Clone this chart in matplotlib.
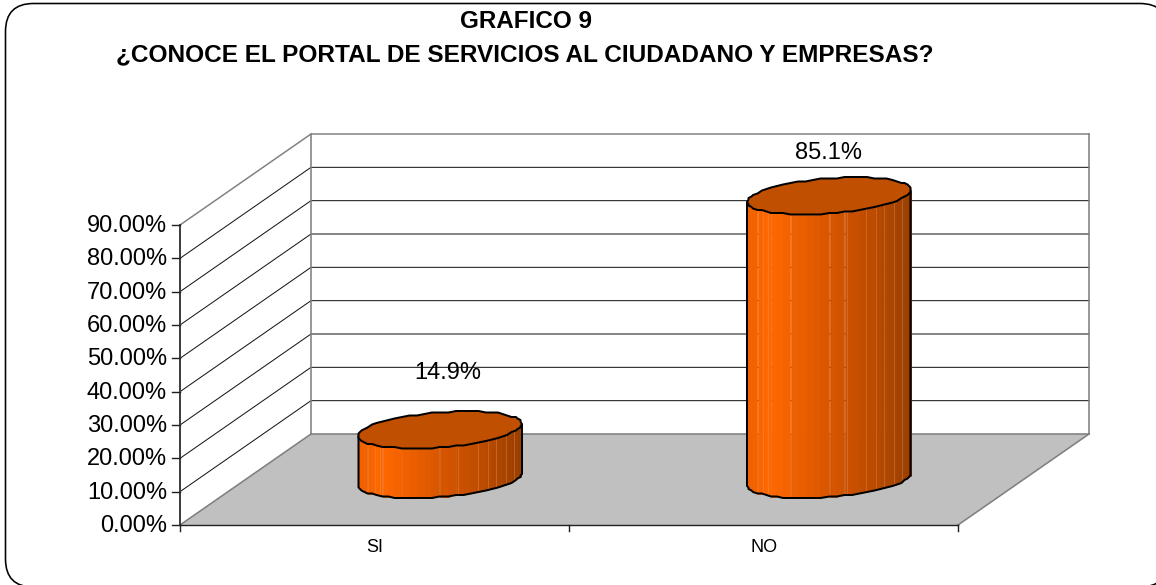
import numpy as np
import matplotlib
matplotlib.use("Agg")
import matplotlib.pyplot as plt
from matplotlib.patches import FancyBboxPatch, Polygon
from matplotlib.colors import LinearSegmentedColormap

# ---- data ----
categories = ["SI", "NO"]
values = [14.9, 85.1]
value_labels = ["14.9%", "85.1%"]
y_ticks = [0, 10, 20, 30, 40, 50, 60, 70, 80, 90]
y_tick_labels = ["0.00%", "10.00%", "20.00%", "30.00%", "40.00%",
                 "50.00%", "60.00%", "70.00%", "80.00%", "90.00%"]
title_lines = ["GRAFICO 9", "¿CONOCE EL PORTAL DE SERVICIOS AL CIUDADANO Y EMPRESAS?"]

# ---- projection (oblique view of the 3-D chart, in figure pixels) ----
X0, Y0 = 180.0, 525.0      # front-left floor corner
W = 778.0                  # floor width
DX, DY = 131.0, 91.0       # depth offset
PX_PER_UNIT = 300.0 / 90.0
YMAX = 90.0


def proj(c, v, d):
    """c: category axis 0..n, v: value, d: depth 0..1"""
    n = len(categories)
    return X0 + W * c / n + DX * d, Y0 - v * PX_PER_UNIT - DY * d


plt.rcParams["font.family"] = ["Liberation Sans", "DejaVu Sans"]
fig = plt.figure(figsize=(11.56, 5.85), dpi=100, facecolor="white")
ax = fig.add_axes([0, 0, 1, 1])
ax.set_xlim(0, 1156)
ax.set_ylim(585, 0)
ax.axis("off")

PX = 0.72
GRAY = "#808080"

# chart frame (its right and bottom edges run off the canvas)
R = 28
FL, FT, FR, FB = 5.5, 3.5, 1168.0, 587.0
ax.add_patch(FancyBboxPatch((FL + R, FT + R), FR - FL - 2 * R, FB - FT - 2 * R,
                            boxstyle=f"round,pad={R},rounding_size={R}",
                            fc="white", ec="black", lw=1.6 * PX, zorder=1))

# floor
nc = len(categories)
floor = [proj(0, 0, 0), proj(nc, 0, 0), proj(nc, 0, 1), proj(0, 0, 1)]
ax.add_patch(Polygon(floor, closed=True, fc="#C0C0C0", ec="none", zorder=2))
for a, b in [(floor[3], floor[2]), (floor[0], floor[3]), (floor[1], floor[2])]:
    ax.plot([a[0], b[0]], [a[1], b[1]], color=GRAY, lw=1.6 * PX, zorder=3)

# gridlines on back and side wall
for t in y_ticks[1:]:
    top = t == y_ticks[-1]
    col = GRAY if top else "#111111"
    lw = (1.5 if top else 1.0) * PX
    xa, ya = proj(0, t, 0)
    xb, yb = proj(0, t, 1)
    xc, yc = proj(nc, t, 1)
    ax.plot([xa, xb, xc], [ya, yb, yc], color=col, lw=lw, zorder=3)

# wall verticals
for c in (0, nc):
    xa, ya = proj(c, 0, 1)
    xb, yb = proj(c, YMAX, 1)
    ax.plot([xa, xb], [ya, yb], color=GRAY, lw=1.6 * PX, zorder=3)

# axes
xa, ya = proj(0, 0, 0)
xb, yb = proj(0, YMAX, 0)
ax.plot([xa, xb], [ya, yb], color="#404040", lw=2 * PX, zorder=4)
xc, yc = proj(nc, 0, 0)
ax.plot([xa, xc], [ya, yc], color="#202020", lw=1.4 * PX, zorder=4)
for t, lab in zip(y_ticks, y_tick_labels):
    x, y = proj(0, t, 0)
    ax.plot([x - 8, x], [y, y], color="#202020", lw=1.4 * PX, zorder=4)
    ax.text(x - 13, y + 1, lab, ha="right", va="center", fontsize=17, color="black")
for c in range(nc + 1):
    x, y = proj(c, 0, 0)
    ax.plot([x, x], [y, y + 6], color="#202020", lw=1.4 * PX, zorder=4)
for i, lab in enumerate(categories):
    x, y = proj(i + 0.5, 0, 0)
    ax.text(x + 0.5, y + 22, lab, ha="center", va="center", fontsize=13, color="black")

# cylinders
A, BX, BY = 77.0, 26.6, 18.5
SNAP = 1.5
N_SEG = 32
side_cmap = LinearSegmentedColormap.from_list(
    "side", [(0, "#EE5F00"), (0.14, "#FF6800"), (0.5, "#D85600"),
             (0.8, "#B84A00"), (1, "#983E00")])
TOP_COL = "#C05000"
LIGHT = [0.10, 0.13, 0.61, 0.73, 0.79, 0.84, 0.90, 0.95]
t_r = np.arctan2(BX, A)
t_l = t_r + np.pi


def ring(cx, cy, ts):
    x = cx + A * np.cos(ts) + BX * np.sin(ts)
    y = cy - BY * np.sin(ts)
    return np.round(x / SNAP) * SNAP, np.round(y / SNAP) * SNAP


for i, v in enumerate(values):
    cx, cy0 = proj(i + 0.5, 0, 0.5)
    _, cyt = proj(i + 0.5, v, 0.5)
    tf = np.linspace(t_l, t_r + 2 * np.pi, N_SEG + 1)
    xt, yt = ring(cx, cyt, tf)
    xb, yb = ring(cx, cy0, tf)
    xmin, xmax = xt.min(), xt.max()
    for k in range(len(tf) - 1):
        f = 0.5 * (xt[k] + xt[k + 1] - 2 * xmin) / (xmax - xmin)
        poly = [(xt[k], yt[k]), (xt[k + 1], yt[k + 1]), (xb[k + 1], yb[k + 1]), (xb[k], yb[k])]
        col = side_cmap(f)
        ax.add_patch(Polygon(poly, closed=True, fc=col, ec=col, lw=0.5, zorder=5))
    for f in LIGHT:
        xl = xmin + f * (xmax - xmin)
        yl_t = np.interp(xl, xt, yt)
        yl_b = np.interp(xl, xt, yb)
        ax.plot([xl, xl], [yl_t, yl_b], color="#F0A070", lw=0.7 * PX, zorder=5.5, alpha=0.45)
    # silhouette
    ax.plot(np.r_[xt[0], xb, xt[-1]], np.r_[yt[0], yb, yt[-1]],
            color="black", lw=2.0 * PX, zorder=6, solid_joinstyle="round")
    ta = np.linspace(0, 2 * np.pi, 2 * N_SEG + 1)
    xe, ye = ring(cx, cyt, ta + t_r)
    ax.add_patch(Polygon(np.c_[xe, ye], closed=True, fc=TOP_COL, ec="black",
                         lw=2.0 * PX, zorder=7, joinstyle="round"))

# value labels
label_offsets = [(8, -56.5), (-1, -42.5)]
for i, (v, lab) in enumerate(zip(values, value_labels)):
    x, y = proj(i + 0.5, v, 0.5)
    dx, dy = label_offsets[i]
    ax.text(x + dx, y + dy, lab, ha="center", va="center", fontsize=17, color="black", zorder=8)

# titles
ax.text(525.5, 22, title_lines[0], ha="center", va="center", fontsize=17.5, fontweight="bold", color="black")
ax.text(524.5, 55, title_lines[1], ha="center", va="center", fontsize=17.6, fontweight="bold", color="black")

fig.savefig("out.png", dpi=100, facecolor="white")
